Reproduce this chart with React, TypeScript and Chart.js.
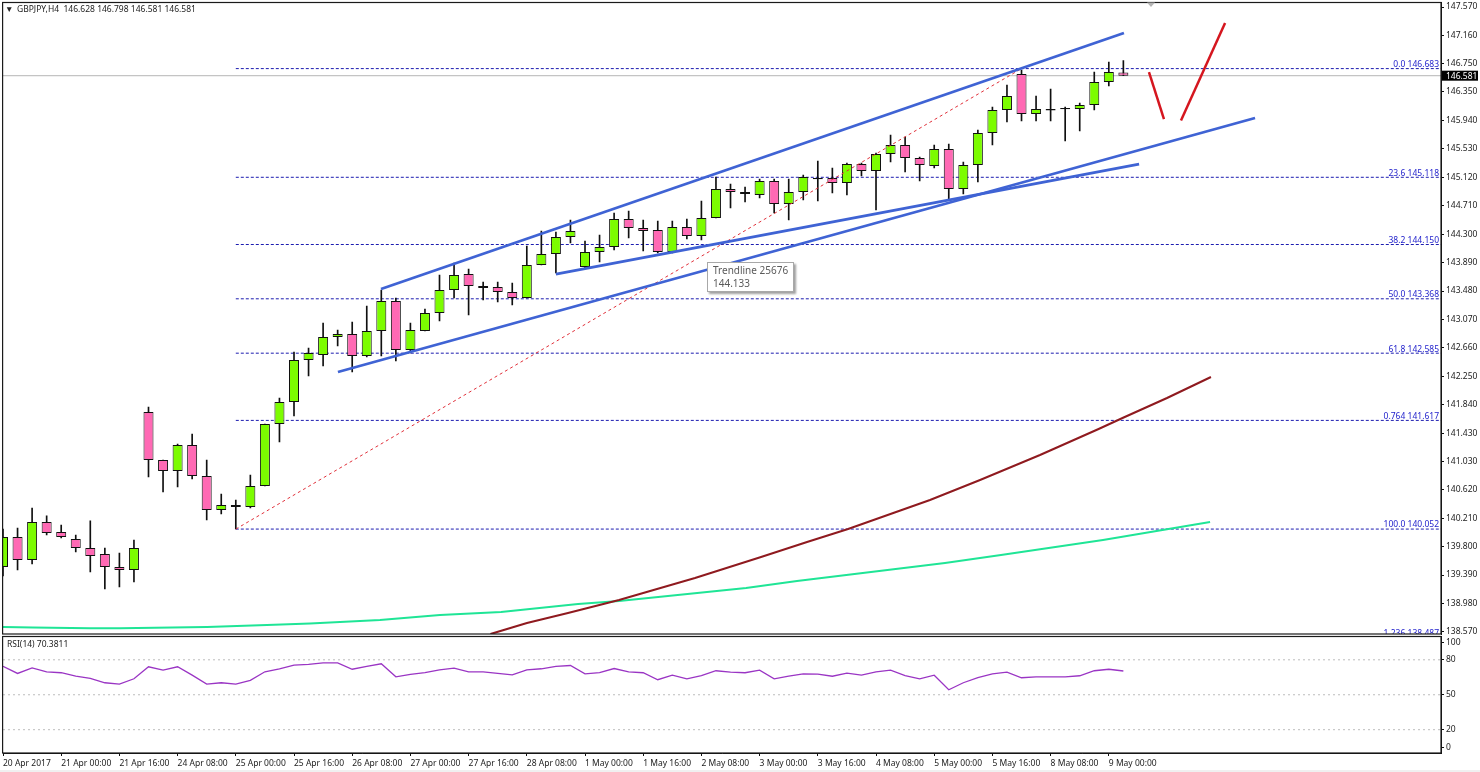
import React, { useEffect, useRef } from "react";
import { Chart, registerables } from "chart.js";

Chart.register(...registerables);

const opens = [139.506,139.938,139.607,140.154,140.010,139.909,139.780,139.693,139.506,139.463,
141.738,141.047,140.889,141.263,140.817,140.327,140.399,140.370,140.673,141.565,
141.882,142.487,142.559,142.818,142.861,142.545,142.905,143.337,142.631,142.905,
143.164,143.495,143.725,143.553,143.538,143.466,143.380,143.855,144.013,144.258,
143.826,144.042,144.114,144.517,144.388,144.359,144.042,144.402,144.273,144.532,
144.949,144.906,144.863,145.065,144.733,144.906,145.108,145.108,145.036,145.309,
145.209,145.453,145.583,145.396,145.281,145.525,144.949,145.295,145.756,146.087,
146.605,146.029,146.101,146.116,146.101,146.159,146.490,146.628];
const closes = [139.938,139.607,140.154,139.996,139.938,139.780,139.665,139.506,139.463,139.780,
141.047,140.889,141.263,140.817,140.327,140.399,140.370,140.673,141.565,141.882,
142.487,142.588,142.818,142.861,142.545,142.905,143.337,142.631,142.919,143.164,
143.495,143.711,143.553,143.524,143.466,143.380,143.855,144.013,144.258,144.345,
144.042,144.114,144.517,144.388,144.345,144.042,144.402,144.273,144.532,144.949,
144.906,144.877,145.065,144.733,144.906,145.122,145.088,145.036,145.309,145.209,
145.453,145.583,145.396,145.295,145.525,144.949,145.295,145.756,146.087,146.289,
146.029,146.101,146.081,146.096,146.159,146.490,146.634,146.581];
const highs = [140.053,140.068,140.356,140.241,140.111,139.967,140.169,139.780,139.708,139.895,
141.810,141.047,141.277,141.421,141.047,140.557,140.471,140.831,141.565,141.940,
142.602,142.660,143.020,142.919,143.034,143.265,143.495,143.380,143.020,143.221,
143.711,143.884,143.797,143.610,143.610,143.596,144.129,144.345,144.330,144.503,
144.201,144.287,144.604,144.633,144.503,144.489,144.489,144.517,144.777,145.122,
145.021,144.978,145.093,145.093,145.093,145.151,145.353,145.252,145.324,145.324,
145.468,145.727,145.698,145.410,145.583,145.597,145.338,145.799,146.130,146.447,
146.663,146.289,146.389,146.130,146.188,146.634,146.778,146.798];
const lows = [139.377,139.463,139.549,139.967,139.924,139.722,139.434,139.189,139.218,139.290,
140.802,140.586,140.658,140.773,140.183,140.269,140.053,140.356,140.673,141.306,
141.681,142.257,142.401,142.689,142.314,142.530,142.545,142.473,142.588,142.905,
143.049,143.380,143.135,143.351,143.322,143.279,143.380,143.855,143.740,144.172,
143.812,143.898,144.071,144.244,144.057,144.028,144.028,144.229,144.215,144.532,
144.676,144.762,144.820,144.604,144.503,144.791,144.777,144.892,144.863,145.137,
144.647,145.338,145.194,145.065,145.252,144.805,144.877,145.050,145.583,145.914,
145.929,145.929,145.929,145.641,145.785,146.087,146.433,146.581];

const rsiValues = [74.5,68.3,73.1,69.7,68.9,65.9,64.0,60.3,59.1,63.7,
74.0,71.1,74.0,66.8,59.1,60.3,59.1,62.3,69.7,72.3,
75.4,76.0,77.4,77.4,71.9,74.3,76.6,65.4,67.4,68.9,
71.4,72.8,69.7,69.7,68.4,67.1,71.4,72.3,74.3,75.1,
68.0,68.9,72.5,69.7,68.9,62.9,66.8,63.7,66.5,70.6,
69.4,68.9,71.1,63.7,65.9,68.0,67.7,65.9,68.5,66.8,
69.7,71.1,66.5,63.7,66.8,54.3,60.3,64.6,68.0,69.4,
64.6,65.4,65.4,65.4,66.3,70.6,71.9,70.38];

const slowMaX = [33.5,36.01,38.83,42.34,47.56,52.1,55.26,58.08,63.71,67.15,71.27,75.26,76.98,80.0,83.02];
const slowMaY = [138.54,138.7,138.844,139.031,139.348,139.65,139.866,140.053,140.471,140.759,141.119,141.49,141.655,141.94,142.242];
const fastMaX = [0,2.06,5.98,8.04,14.02,18.14,21.1,25.91,30.03,34.23,39.52,42.34,51.07,54.57,64.74,68.59,75.6,82.96];
const fastMaY = [138.642,138.635,138.623,138.625,138.642,138.671,138.693,138.743,138.815,138.858,138.973,139.017,139.204,139.305,139.564,139.679,139.895,140.154];

const fibNames = ["0.0","23.6","38.2","50.0","61.8","0.764","100.0","1.236"];
const fibValues = [146.683,145.118,144.150,143.368,142.585,141.617,140.052,138.487];
const fibStartIndex = 16;

const fibDiagonalX = [16, 70];
const fibDiagonalY = [140.052, 146.683];
const trendA = [[25.98,143.509],[77.04,147.196]];
const trendB = [[23.02,142.314],[86.05,145.972]];
const trendC = [[38.0,143.725],[78.08,145.309]];
const arrowDown = [[78.76,146.634],[79.79,145.957]];
const arrowUp = [[80.96,145.936],[83.99,147.34]];

const lastPrice = 146.581;
const priceTicks = [147.57,147.16,146.75,146.35,145.94,145.53,145.12,144.71,144.3,143.89,143.48,143.07,142.66,142.25,141.84,141.43,141.03,140.62,140.21,139.8,139.39,138.98,138.57];
const timeLabels = ["20 Apr 2017","21 Apr 00:00","21 Apr 16:00","24 Apr 08:00","25 Apr 00:00","25 Apr 16:00","26 Apr 08:00","27 Apr 00:00","27 Apr 16:00","28 Apr 08:00","1 May 00:00","1 May 16:00","2 May 08:00","3 May 00:00","3 May 16:00","4 May 08:00","5 May 00:00","5 May 16:00","8 May 08:00","9 May 00:00"];
const rsiLevels = [80, 50, 20];
const rsiTickValues = [95, 80, 50, 20, 5];
const rsiTickLabels = ["100", "80", "50", "20", "0"];

const X_MAX = 98.83;
const FONT = '"Noto Sans", sans-serif';
const FONT_SIZE = 8.5;
const GREEN = "#7cfc00";
const PINK = "#ff69b4";
const BLUE = "#3f63d4";
const RED = "#d5161f";

const pts = (a: number[][]) => a.map(([x, y]) => ({ x, y }));
const line = (data: any[], color: string, width: number, order: number, dash: number[] = []) => ({
  type: "line", data, borderColor: color, borderWidth: width, borderDash: dash,
  pointRadius: 0, tension: 0, order, fill: false,
});

const framePlugin = {
  id: "frame",
  afterDraw(chart: any) {
    const { ctx, chartArea: a } = chart;
    ctx.save();
    ctx.strokeStyle = "#1a1a1a";
    ctx.lineWidth = 1.2;
    ctx.strokeRect(a.left - 0.4, a.top, a.right - a.left + 0.4, a.bottom - a.top);
    ctx.restore();
  },
};

const pricePlugin = {
  id: "priceText",
  afterDatasetsDraw(chart: any) {
    const { ctx, chartArea: a, scales } = chart;
    const y = scales.y;
    ctx.save();
    ctx.beginPath();
    ctx.rect(a.left, a.top, a.right - a.left, a.bottom - a.top);
    ctx.clip();
    ctx.font = `${FONT_SIZE}px ${FONT}`;
    ctx.fillStyle = "#2323cc";
    ctx.textAlign = "right";
    ctx.textBaseline = "middle";
    fibValues.forEach((v, i) => {
      ctx.fillText(`${fibNames[i]} ${v.toFixed(3)}`, 1439, y.getPixelForValue(v) - 4);
    });
    ctx.restore();
  },
  afterDraw(chart: any) {
    const { ctx, scales } = chart;
    const py = scales.y.getPixelForValue(lastPrice);
    ctx.save();
    ctx.fillStyle = "#000";
    ctx.fillRect(1442, py - 5, 36, 10);
    ctx.fillStyle = "#fff";
    ctx.font = `${FONT_SIZE}px ${FONT}`;
    ctx.textBaseline = "middle";
    ctx.textAlign = "left";
    ctx.fillText(lastPrice.toFixed(3), 1446, py + 0.5);
    ctx.fillStyle = "#b4b4b4";
    ctx.beginPath();
    ctx.moveTo(1147, 2.5);
    ctx.lineTo(1155, 2.5);
    ctx.lineTo(1151, 7);
    ctx.closePath();
    ctx.fill();
    ctx.fillStyle = "#222";
    ctx.font = `${FONT_SIZE}px ${FONT}`;
    ctx.fillText("▼", 5, 10);
    ctx.fillText("GBPJPY,H4  146.628 146.798 146.581 146.581", 17, 10);
    ctx.restore();
  },
};

const rsiPlugin = {
  id: "rsiText",
  afterDraw(chart: any) {
    const { ctx } = chart;
    ctx.save();
    ctx.fillStyle = "#222";
    ctx.font = `${FONT_SIZE}px ${FONT}`;
    ctx.textBaseline = "middle";
    ctx.fillText("RSI(14) 70.3811", 7, 645);
    ctx.restore();
  },
};

export default function App() {
  const priceRef = useRef<HTMLCanvasElement>(null);
  const rsiRef = useRef<HTMLCanvasElement>(null);

  useEffect(() => {
    const tickFont = { family: FONT, size: FONT_SIZE };
    const wicks = highs.map((h, i) => ({ x: i, y: [lows[i], h] }));
    const bodies = opens.map((o, i) => ({ x: i, y: [o, closes[i]] }));
    const bodyColors = opens.map((o, i) =>
      Math.abs(closes[i] - o) < 0.025 ? "#101010" : closes[i] >= o ? GREEN : PINK
    );

    const priceChart = new Chart(priceRef.current as any, {
      type: "bar",
      data: {
        datasets: [
          line(pts(trendA), BLUE, 2.8, 0),
          line(pts(trendB), BLUE, 2.8, 0),
          line(pts(trendC), BLUE, 2.8, 0),
          line(pts(arrowDown), RED, 2.5, 0),
          line(pts(arrowUp), RED, 2.5, 0),
          line(fibDiagonalX.map((x, i) => ({ x, y: fibDiagonalY[i] })), "#e0303a", 1, 1, [3, 3]),
          line(slowMaX.map((x, i) => ({ x, y: slowMaY[i] })), "#8f1a1f", 2, 1),
          line(fastMaX.map((x, i) => ({ x, y: fastMaY[i] })), "#1fe596", 2, 1),
          {
            type: "bar", data: bodies, backgroundColor: bodyColors, borderColor: "#101010",
            borderWidth: 1, borderSkipped: false, inflateAmount: 0, barThickness: 10, grouped: false, order: 2,
          },
          {
            type: "bar", data: wicks, backgroundColor: "#101010", borderWidth: 0,
            barThickness: 1, grouped: false, order: 3,
          },
          ...fibValues.map((v) =>
            line([{ x: fibStartIndex, y: v }, { x: X_MAX, y: v }], "#1c1cb0", 1, 4, [3, 2])
          ),
          line([{ x: 0, y: lastPrice }, { x: X_MAX, y: lastPrice }], "#c4c4c4", 1.2, 5),
        ] as any,
      },
      options: {
        animation: false,
        responsive: false,
        layout: { autoPadding: false, padding: { left: 3, top: 2.5, right: 0, bottom: 138 } },
        plugins: { legend: { display: false }, tooltip: { enabled: false } },
        scales: {
          x: { type: "linear", min: 0, max: X_MAX, display: false, offset: false },
          y: {
            type: "linear", position: "right", min: 138.541, max: 147.635, bounds: "data",
            afterBuildTicks: (s: any) => { s.ticks = priceTicks.map((value) => ({ value })); },
            afterFit: (s: any) => { s.width = 39; s.paddingTop = 0; s.paddingBottom = 0; },
            grid: { drawOnChartArea: false, tickLength: 3, color: "#111" },
            border: { color: "#111" },
            ticks: {
              font: tickFont, color: "#222", padding: 2, autoSkip: false,
              callback: (v: any) => Number(v).toFixed(3),
            },
          },
        },
      } as any,
      plugins: [framePlugin, pricePlugin],
    } as any);

    const rsiChart = new Chart(rsiRef.current as any, {
      type: "line",
      data: {
        datasets: [
          line(rsiValues.map((y, x) => ({ x, y })), "#9a35c4", 1.3, 0),
          ...rsiLevels.map((v) =>
            line([{ x: 0, y: v }, { x: X_MAX, y: v }], "#bdbdbd", 1, 1, [2, 3])
          ),
        ] as any,
      },
      options: {
        animation: false,
        responsive: false,
        layout: { autoPadding: false, padding: { left: 3, top: 636.5, right: 0, bottom: 0 } },
        plugins: { legend: { display: false }, tooltip: { enabled: false } },
        scales: {
          x: {
            type: "linear", min: 0, max: X_MAX, bounds: "data",
            afterBuildTicks: (s: any) => { s.ticks = timeLabels.map((_, i) => ({ value: i * 4 })); },
            afterFit: (s: any) => { s.height = 19; s.paddingLeft = 0; s.paddingRight = 0; },
            grid: { drawOnChartArea: false, tickLength: 3, color: "#111" },
            border: { color: "#111" },
            ticks: {
              font: tickFont, color: "#222", align: "start", padding: 2, autoSkip: false, maxRotation: 0,
              callback: (v: any) => timeLabels[Math.round(Number(v) / 4)],
            },
          },
          y: {
            type: "linear", position: "right", min: 0, max: 100, bounds: "data",
            afterBuildTicks: (s: any) => { s.ticks = rsiTickValues.map((value) => ({ value })); },
            afterFit: (s: any) => { s.width = 39; s.paddingTop = 0; s.paddingBottom = 0; },
            grid: { drawOnChartArea: false, tickLength: 3, color: "#111" },
            border: { color: "#111" },
            ticks: {
              font: tickFont, color: "#222", padding: 2, autoSkip: false,
              callback: (v: any) => rsiTickLabels[rsiTickValues.indexOf(Number(v))],
            },
          },
        },
      } as any,
      plugins: [framePlugin, rsiPlugin],
    } as any);

    return () => {
      priceChart.destroy();
      rsiChart.destroy();
    };
  }, []);

  const canvasStyle: React.CSSProperties = { position: "absolute", left: 0, top: 0, width: 1480, height: 772 };
  return (
    <div style={{ position: "fixed", left: 0, top: 0, width: 1480, height: 772, background: "#fff", overflow: "hidden" }}>
      <canvas ref={rsiRef} width={1480} height={772} style={canvasStyle} />
      <canvas ref={priceRef} width={1480} height={772} style={canvasStyle} />
      <div style={{
        position: "absolute", left: 707, top: 262, width: 85, height: 28, background: "#fff",
        border: "1px solid #a8a8a8", boxShadow: "2px 2px 2px #a0a0a0", boxSizing: "content-box",
        font: `10px/13px ${FONT}`, color: "#5a5a5a", paddingLeft: 0, whiteSpace: "pre",
      }}>
        <div style={{ margin: "1px 0 0 5px" }}>{"Trendline 25676\n144.133"}</div>
      </div>
      <div style={{ position: "absolute", left: 0, top: 770, width: 1480, height: 2, background: "#f0f0f0" }} />
    </div>
  );
}
